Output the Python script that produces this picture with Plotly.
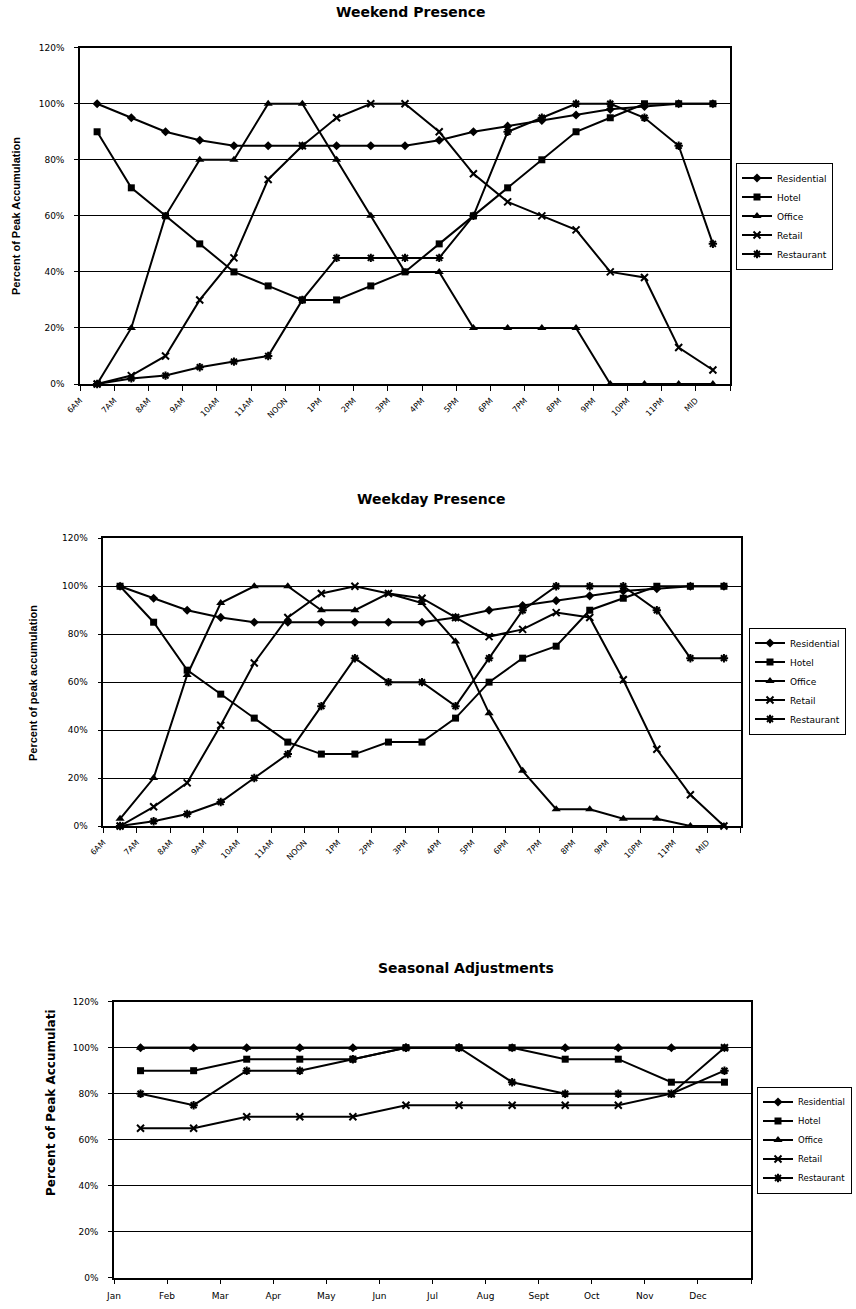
import plotly.graph_objects as go

W, H = 856, 1309

hours = ["6AM", "7AM", "8AM", "9AM", "10AM", "11AM", "NOON", "1PM", "2PM", "3PM",
         "4PM", "5PM", "6PM", "7PM", "8PM", "9PM", "10PM", "11PM", "MID"]
months = ["Jan", "Feb", "Mar", "Apr", "May", "Jun", "Jul", "Aug", "Sept", "Oct", "Nov", "Dec"]
series_names = ["Residential", "Hotel", "Office", "Retail", "Restaurant"]

weekend_residential = [100, 95, 90, 87, 85, 85, 85, 85, 85, 85, 87, 90, 92, 94, 96, 98, 99, 100, 100]
weekend_hotel = [90, 70, 60, 50, 40, 35, 30, 30, 35, 40, 50, 60, 70, 80, 90, 95, 100, 100, 100]
weekend_office = [0, 20, 60, 80, 80, 100, 100, 80, 60, 40, 40, 20, 20, 20, 20, 0, 0, 0, 0]
weekend_retail = [0, 3, 10, 30, 45, 73, 85, 95, 100, 100, 90, 75, 65, 60, 55, 40, 38, 13, 5]
weekend_restaurant = [0, 2, 3, 6, 8, 10, 30, 45, 45, 45, 45, 60, 90, 95, 100, 100, 95, 85, 50]

weekday_residential = [100, 95, 90, 87, 85, 85, 85, 85, 85, 85, 87, 90, 92, 94, 96, 98, 99, 100, 100]
weekday_hotel = [100, 85, 65, 55, 45, 35, 30, 30, 35, 35, 45, 60, 70, 75, 90, 95, 100, 100, 100]
weekday_office = [3, 20, 63, 93, 100, 100, 90, 90, 97, 93, 77, 47, 23, 7, 7, 3, 3, 0, 0]
weekday_retail = [0, 8, 18, 42, 68, 87, 97, 100, 97, 95, 87, 79, 82, 89, 87, 61, 32, 13, 0]
weekday_restaurant = [0, 2, 5, 10, 20, 30, 50, 70, 60, 60, 50, 70, 90, 100, 100, 100, 90, 70, 70]

seasonal_residential = [100, 100, 100, 100, 100, 100, 100, 100, 100, 100, 100, 100]
seasonal_hotel = [90, 90, 95, 95, 95, 100, 100, 100, 95, 95, 85, 85]
seasonal_office = [100, 100, 100, 100, 100, 100, 100, 100, 100, 100, 100, 100]
seasonal_retail = [65, 65, 70, 70, 70, 75, 75, 75, 75, 75, 80, 100]
seasonal_restaurant = [80, 75, 90, 90, 95, 100, 100, 85, 80, 80, 80, 90]

pct_ticks = [0, 20, 40, 60, 80, 100, 120]
pct_labels = ["0%", "20%", "40%", "60%", "80%", "100%", "120%"]

markers = {
    "Residential": dict(symbol="diamond", size=7, color="black"),
    "Hotel": dict(symbol="square", size=7, color="black"),
    "Office": dict(symbol="triangle-up", size=8, color="black"),
    "Retail": dict(symbol="x-thin-open", size=7, color="black", line=dict(width=2, color="black")),
    "Restaurant": dict(symbol="asterisk-open", size=7, color="black", line=dict(width=2, color="black")),
}

FONT = "DejaVu Sans"

charts = [
    dict(cats=hours, data=[weekend_residential, weekend_hotel, weekend_office, weekend_retail, weekend_restaurant],
         px=(80, 730), py=(47.7, 384), title="Weekend Presence", tpos=(410, 12),
         ylab="Percent of Peak Accumulation", ylpos=(16, 216), angle=-45,
         legpos=(736, 216), legfont=9),
    dict(cats=hours, data=[weekday_residential, weekday_hotel, weekday_office, weekday_retail, weekday_restaurant],
         px=(103.3, 740.7), py=(538.3, 826), title="Weekday Presence", tpos=(431, 499),
         ylab="Percent of peak accumulation", ylpos=(33, 683), angle=-45,
         legpos=(749, 681), legfont=9),
    dict(cats=months, data=[seasonal_residential, seasonal_hotel, seasonal_office, seasonal_retail, seasonal_restaurant],
         px=(114, 751), py=(1001.7, 1277.7), title="Seasonal Adjustments", tpos=(466, 968),
         ylab="Percent of Peak Accumulati", ylpos=(51, 1103), angle=0,
         legpos=(757, 1140), legfont=8.5),
]

fig = go.Figure()
annotations = []
layout = dict(width=W, height=H, margin=dict(l=0, r=0, t=0, b=0, autoexpand=False),
              paper_bgcolor="white", plot_bgcolor="white",
              font=dict(family=FONT, color="black"))

for ci, ch in enumerate(charts, start=1):
    sfx = "" if ci == 1 else str(ci)
    n = len(ch["cats"])
    xs = list(range(n))
    legname = "legend" + sfx
    for name, vals in zip(series_names, ch["data"]):
        fig.add_trace(go.Scatter(
            x=xs, y=vals, name=name, mode="lines+markers",
            line=dict(color="black", width=2),
            marker=markers[name],
            xaxis="x" + sfx, yaxis="y" + sfx, legend=legname,
            cliponaxis=False,
        ))
    x0, x1 = ch["px"]
    y0, y1 = ch["py"]
    tickvals = [i - 0.5 for i in range(n + 1)]
    ticktext = list(ch["cats"]) + [""]
    layout["xaxis" + sfx] = dict(
        domain=[x0 / W, x1 / W], anchor="y" + sfx, range=[-0.5, n - 0.5],
        tickmode="array", tickvals=tickvals, ticktext=ticktext,
        tickangle=ch["angle"], ticks="outside", ticklen=5, tickcolor="black", tickwidth=1,
        showline=True, linecolor="black", linewidth=1.5, mirror=True,
        showgrid=False, zeroline=False, automargin=False,
        tickfont=dict(size=8 if ch["angle"] else 9, family=FONT),
        ticklabelstandoff=4 if ch["angle"] == 0 else 2,
    )
    layout["yaxis" + sfx] = dict(
        domain=[1 - y1 / H, 1 - y0 / H], anchor="x" + sfx, range=[0, 120],
        tickmode="array", tickvals=pct_ticks, ticktext=pct_labels,
        ticks="outside", ticklen=4, tickcolor="black",
        showline=True, linecolor="black", linewidth=1.5, mirror=True,
        showgrid=True, gridcolor="black", gridwidth=1, zeroline=False, automargin=False,
        tickfont=dict(size=9, family=FONT), ticklabelstandoff=8,
    )
    lx, ly = ch["legpos"]
    layout[legname] = dict(
        x=lx / W, y=1 - ly / H, xanchor="left", yanchor="middle",
        bordercolor="black", borderwidth=1, bgcolor="white",
        font=dict(size=ch["legfont"], family=FONT), itemwidth=30,
        tracegroupgap=0, traceorder="normal",
    )
    tx, ty = ch["tpos"]
    annotations.append(dict(text="<b>" + ch["title"] + "</b>", x=tx / W, y=1 - ty / H,
                            xref="paper", yref="paper", xanchor="center", yanchor="middle",
                            showarrow=False, font=dict(size=14, family=FONT)))
    lx2, ly2 = ch["ylpos"]
    annotations.append(dict(text="<b>" + ch["ylab"] + "</b>", x=lx2 / W, y=1 - ly2 / H,
                            xref="paper", yref="paper", xanchor="center", yanchor="middle",
                            textangle=-90, showarrow=False,
                            font=dict(size=11 if ci < 3 else 12,
                                      family="Liberation Sans Narrow, Liberation Sans" if ci < 3 else FONT)))

layout["annotations"] = annotations
fig.update_layout(**layout)
fig.write_html("out.html",
               config={"displayModeBar": False},
               post_script="document.body.style.margin='0';document.body.style.padding='0';"
                           "document.documentElement.style.overflow='hidden';")
